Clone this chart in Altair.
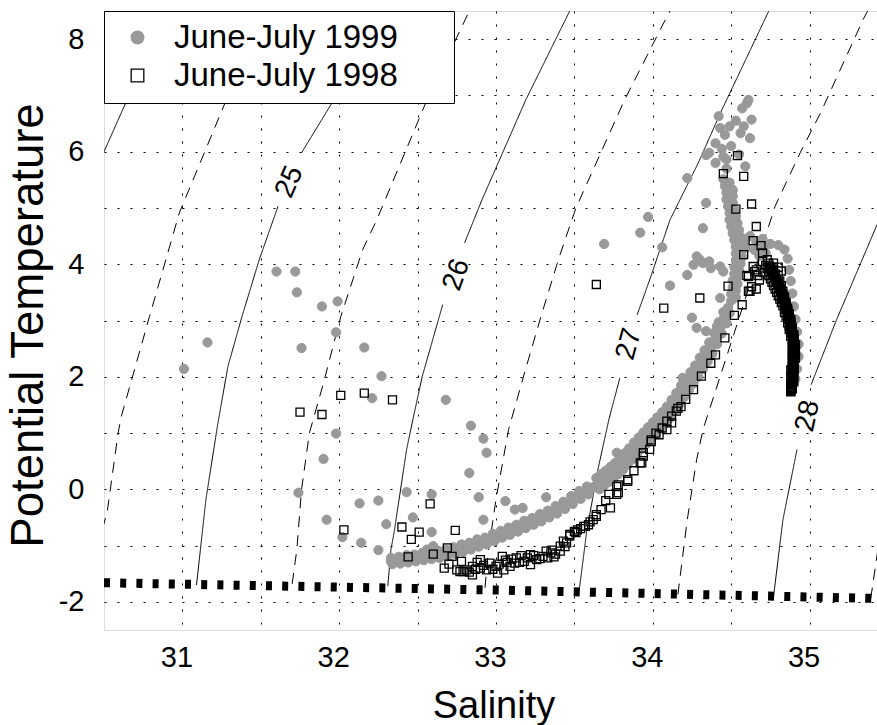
import math
import altair as alt
import pandas as pd

SERIES = ["June-July 1999", "June-July 1998"]

# ---------------- June-July 1999 (grey dots): (salinity, potential temperature) ----------------
G99_SCATTER = [(31.01, 2.14), (31.16, 2.61), (31.60, 3.87), (31.72, 3.87), (31.73, 3.50), (31.89, 3.25),
               (31.99, 3.34), (31.98, 2.79), (31.76, 2.51), (32.16, 2.52), (32.27, 2.01), (32.21, 1.62),
               (32.68, 1.59), (31.98, 0.99), (31.90, 0.54), (31.74, -0.06), (31.92, -0.54), (32.13, -0.25),
               (32.25, -0.20), (32.43, -0.05), (32.59, -0.09), (32.02, -0.85), (32.14, -0.95), (32.25, -1.08),
               (32.30, -0.62), (32.47, -0.50), (32.59, -0.76), (32.84, 1.13), (32.92, 0.90), (32.94, 0.65),
               (32.83, 0.29), (32.89, -0.14), (33.06, -0.21), (33.12, -0.36), (33.17, -0.33), (33.32, -0.14),
               (32.92, -0.54), (32.56, -1.07), (32.60, -1.01)]
G99_SHELF_UPPER = [(32.33, -1.22), (32.38, -1.20), (32.43, -1.17), (32.48, -1.16), (32.53, -1.13), (32.58, -1.12),
                   (32.63, -1.09), (32.68, -1.07), (32.73, -1.03), (32.78, -0.98), (32.83, -0.95), (32.88, -0.89),
                   (32.93, -0.86), (32.98, -0.79), (33.03, -0.74), (33.08, -0.68), (33.13, -0.63), (33.18, -0.56),
                   (33.23, -0.51), (33.28, -0.44), (33.33, -0.38), (33.38, -0.30), (33.43, -0.22), (33.48, -0.12),
                   (33.53, -0.03), (33.58, 0.05)]
G99_SHELF_MID = [(32.33, -1.28), (32.38, -1.26), (32.43, -1.24), (32.48, -1.22), (32.53, -1.20), (32.58, -1.18),
                 (32.63, -1.16), (32.68, -1.13), (32.73, -1.09), (32.78, -1.05), (32.83, -1.01), (32.88, -0.96),
                 (32.93, -0.92), (32.98, -0.86), (33.03, -0.80), (33.08, -0.75), (33.13, -0.69), (33.18, -0.63),
                 (33.23, -0.57), (33.28, -0.51), (33.33, -0.44), (33.38, -0.37), (33.43, -0.29), (33.48, -0.19),
                 (33.53, -0.10), (33.58, -0.02), (33.62, 0.04)]
G99_SHELF_LOWER = [(32.34, -1.33), (32.39, -1.32), (32.44, -1.30), (32.49, -1.28), (32.54, -1.26), (32.59, -1.24),
                   (32.64, -1.22), (32.69, -1.19), (32.74, -1.15), (32.79, -1.11), (32.84, -1.07), (32.89, -1.02),
                   (32.94, -0.98), (32.99, -0.92), (33.04, -0.86), (33.09, -0.81), (33.14, -0.75), (33.19, -0.69),
                   (33.24, -0.63), (33.29, -0.57), (33.34, -0.50), (33.39, -0.43), (33.44, -0.35), (33.49, -0.26),
                   (33.54, -0.17), (33.59, -0.09)]
G99_SLOPE_UPPER = [(33.64, 0.20), (33.67, 0.27), (33.70, 0.33), (33.73, 0.40), (33.76, 0.47), (33.79, 0.55),
                   (33.82, 0.64), (33.85, 0.73), (33.88, 0.83), (33.91, 0.92), (33.94, 1.01), (33.97, 1.10),
                   (34.00, 1.19), (34.03, 1.28), (34.06, 1.37), (34.09, 1.47), (34.12, 1.59), (34.15, 1.71),
                   (34.18, 1.84), (34.21, 1.96), (34.24, 2.08), (34.27, 2.20), (34.30, 2.34), (34.33, 2.47),
                   (34.36, 2.61), (34.39, 2.78), (34.42, 2.97), (34.45, 3.15)]
G99_SLOPE_MID = [(33.65, 0.10), (33.68, 0.17), (33.71, 0.23), (33.74, 0.30), (33.77, 0.37), (33.80, 0.45),
                 (33.83, 0.54), (33.86, 0.63), (33.89, 0.73), (33.92, 0.82), (33.95, 0.91), (33.98, 1.00),
                 (34.01, 1.09), (34.04, 1.18), (34.07, 1.27), (34.10, 1.37), (34.13, 1.49), (34.16, 1.61),
                 (34.19, 1.74), (34.22, 1.86), (34.25, 1.98), (34.28, 2.10), (34.31, 2.24), (34.34, 2.37),
                 (34.37, 2.51), (34.40, 2.68), (34.43, 2.87), (34.455, 3.05), (34.48, 3.23)]
G99_SLOPE_LOWER = [(33.66, 0.00), (33.69, 0.07), (33.72, 0.13), (33.75, 0.20), (33.78, 0.27), (33.81, 0.35),
                   (33.84, 0.44), (33.87, 0.53), (33.90, 0.63), (33.93, 0.72), (33.96, 0.81), (33.99, 0.90),
                   (34.02, 0.99), (34.05, 1.08), (34.08, 1.17), (34.11, 1.27), (34.14, 1.39), (34.17, 1.51),
                   (34.20, 1.64), (34.23, 1.76), (34.26, 1.88), (34.29, 2.00), (34.32, 2.14), (34.35, 2.27),
                   (34.38, 2.41), (34.41, 2.58), (34.44, 2.77), (34.47, 2.95), (34.49, 3.13)]
G99_COLUMN = [(34.50, 3.35), (34.50, 3.47), (34.51, 3.59), (34.51, 3.71), (34.52, 3.83), (34.52, 3.95),
              (34.53, 4.07), (34.53, 4.19), (34.53, 4.31), (34.52, 4.43), (34.51, 4.55), (34.50, 4.67),
              (34.49, 4.79), (34.49, 4.91), (34.48, 5.03), (34.47, 5.15), (34.47, 5.27), (34.46, 5.39),
              (34.45, 5.51), (34.53, 3.41), (34.53, 3.53), (34.54, 3.65), (34.54, 3.77), (34.55, 3.89),
              (34.56, 4.01), (34.57, 4.13), (34.57, 4.25), (34.57, 4.37), (34.56, 4.49), (34.55, 4.61),
              (34.54, 4.73), (34.53, 4.85), (34.52, 4.97), (34.51, 5.09), (34.51, 5.21), (34.50, 5.33),
              (34.49, 5.45)]
G99_TOP = [(34.61, 6.92), (34.57, 6.77), (34.63, 6.57), (34.42, 6.63), (34.43, 6.42), (34.56, 6.33),
           (34.62, 6.24), (34.40, 6.15), (34.34, 5.94), (34.45, 5.91), (34.59, 5.74), (34.22, 5.53),
           (34.34, 5.09), (34.51, 5.32), (34.52, 4.91), (34.60, 6.86), (34.36, 5.98), (34.47, 5.86),
           (34.44, 6.05), (34.50, 6.10), (34.47, 5.70), (34.58, 6.45), (34.46, 6.30), (34.40, 5.80),
           (34.55, 5.95), (34.53, 6.55), (34.49, 6.45)]
G99_MID = [(33.97, 4.84), (33.92, 4.56), (34.32, 4.64), (34.06, 4.30), (33.69, 4.36), (34.30, 4.08),
           (34.26, 3.99), (34.28, 4.14), (34.32, 4.02), (34.37, 3.93), (34.43, 3.96), (34.45, 3.87),
           (34.22, 3.81), (34.11, 3.62), (34.43, 3.40), (34.25, 3.05), (34.28, 2.87), (34.34, 2.81),
           (34.41, 2.90), (33.77, 0.65), (34.19, 1.98), (34.36, 4.05)]
G99_DEEP = [(34.66, 4.40), (34.70, 4.33), (34.75, 4.36), (34.80, 4.34), (34.84, 4.26), (34.86, 4.10),
            (34.87, 3.90), (34.88, 3.70), (34.89, 3.48), (34.90, 3.25), (34.91, 3.02), (34.92, 2.80),
            (34.93, 2.58), (34.93, 2.36), (34.92, 2.14), (34.91, 1.96), (34.89, 1.85), (34.62, 4.50),
            (34.58, 4.40), (34.72, 4.20), (34.68, 4.15), (34.60, 4.30), (34.65, 4.25), (34.70, 4.45)]

# ---------------- June-July 1998 (open squares) ----------------
S98_SCATTER = [(31.75, 1.37), (31.89, 1.33), (32.01, 1.67), (32.16, 1.71), (32.34, 1.59), (32.03, -0.72),
               (32.58, -0.26), (32.40, -0.67), (32.51, -0.76), (32.46, -0.89), (32.74, -0.73), (32.44, -1.20),
               (32.60, -1.15), (32.69, -1.04), (32.72, -1.19), (33.64, 3.64), (34.07, 3.22), (34.30, 3.40)]
S98_SHELF = [(32.67, -1.40), (32.75, -1.43), (32.77, -1.46), (32.78, -1.28), (32.79, -1.46), (32.81, -1.43),
             (32.85, -1.37), (32.85, -1.52), (32.90, -1.25), (32.90, -1.40), (32.94, -1.43), (32.96, -1.31),
             (33.00, -1.37), (33.01, -1.49), (33.04, -1.19), (33.05, -1.43), (33.09, -1.37), (33.12, -1.31),
             (33.13, -1.22), (33.18, -1.28), (33.22, -1.16), (33.22, -1.34), (33.26, -1.25), (33.30, -1.19),
             (33.32, -1.10), (33.33, -1.22), (33.38, -1.15), (33.41, -1.10), (33.41, -1.01), (33.43, -0.92),
             (33.47, -0.83), (33.47, -0.80), (33.50, -0.75), (33.51, -0.77), (33.56, -0.66), (33.57, -0.66),
             (33.59, -0.63), (32.70, -1.33), (32.83, -1.47), (32.87, -1.42), (32.92, -1.35), (32.98, -1.42),
             (33.02, -1.33), (33.07, -1.30), (33.10, -1.24), (33.15, -1.30), (33.20, -1.22), (33.24, -1.18),
             (33.28, -1.23), (33.35, -1.13), (33.37, -1.20), (33.44, -1.02), (33.45, -0.95), (33.52, -0.72),
             (33.54, -0.70), (33.36, -1.08), (33.16, -1.18), (32.88, -1.30), (33.06, -1.26)]
S98_SLOPE = [(33.62, -0.54), (33.64, -0.48), (33.64, -0.45), (33.67, -0.36), (33.73, -0.33), (33.72, -0.09),
             (33.77, -0.09), (33.77, 0.05), (33.78, -0.06), (33.78, 0.08), (33.84, 0.14), (33.84, 0.17),
             (33.92, 0.47), (33.93, 0.47), (33.94, 0.59), (33.94, 0.65), (33.98, 0.71), (33.99, 0.85),
             (33.99, 0.88), (34.02, 1.00), (34.04, 0.97), (34.06, 1.09), (34.09, 1.06), (34.09, 1.21),
             (34.12, 1.18), (34.12, 1.30), (34.15, 1.39), (34.18, 1.47), (34.26, 1.77), (34.31, 2.01),
             (34.37, 2.24), (34.40, 2.39), (34.46, 2.69), (33.60, -0.58), (33.70, -0.20), (33.88, 0.33),
             (34.21, 1.60), (34.16, 1.44)]
S98_UPPER = [(34.54, 5.93), (34.45, 5.61), (34.58, 5.56), (34.53, 4.98), (34.63, 5.07), (34.66, 4.67),
             (34.64, 4.42), (34.69, 4.33), (34.70, 4.20), (34.58, 4.17), (34.74, 4.02), (34.60, 3.80),
             (34.65, 3.87), (34.57, 3.28), (34.52, 3.09), (34.62, 3.52), (34.66, 3.56), (34.64, 3.96),
             (34.61, 3.78), (34.66, 3.90), (34.68, 3.72), (34.48, 3.61), (34.61, 3.52), (34.76, 3.90),
             (34.63, 3.60), (34.67, 3.80), (34.70, 4.05), (34.73, 4.08), (34.77, 4.02), (34.80, 3.95),
             (34.71, 3.85), (34.82, 3.88)]
S98_DEEP = [(34.72, 3.98), (34.76, 3.95), (34.73, 3.92), (34.77, 3.89), (34.74, 3.86), (34.78, 3.83),
            (34.74, 3.80), (34.78, 3.77), (34.75, 3.74), (34.79, 3.71), (34.76, 3.68), (34.80, 3.65),
            (34.77, 3.62), (34.81, 3.59), (34.78, 3.56), (34.82, 3.53), (34.79, 3.50), (34.83, 3.47),
            (34.80, 3.44), (34.83, 3.41), (34.81, 3.38), (34.84, 3.35), (34.82, 3.32), (34.85, 3.29),
            (34.83, 3.26), (34.85, 3.23), (34.84, 3.20), (34.86, 3.17), (34.84, 3.14), (34.87, 3.11),
            (34.85, 3.08), (34.87, 3.05), (34.86, 3.02), (34.88, 2.99), (34.86, 2.96), (34.88, 2.93),
            (34.87, 2.90), (34.89, 2.87), (34.87, 2.84), (34.89, 2.81), (34.88, 2.78), (34.90, 2.75),
            (34.88, 2.72), (34.90, 2.69), (34.89, 2.66), (34.90, 2.63), (34.89, 2.60), (34.91, 2.57),
            (34.89, 2.54), (34.90, 2.51), (34.89, 2.48), (34.91, 2.45), (34.89, 2.42), (34.90, 2.39),
            (34.89, 2.36), (34.91, 2.33), (34.89, 2.30), (34.90, 2.27), (34.89, 2.24), (34.90, 2.21),
            (34.89, 2.18), (34.90, 2.15), (34.88, 2.12), (34.90, 2.09), (34.89, 2.06), (34.90, 2.03),
            (34.88, 2.00), (34.89, 1.97), (34.89, 1.94), (34.90, 1.91), (34.88, 1.88), (34.89, 1.85),
            (34.88, 1.82), (34.89, 1.79), (34.88, 1.76), (34.88, 1.73)]
S98_DEEP_2 = [(34.745, 3.965), (34.75, 3.935), (34.755, 3.905), (34.76, 3.875), (34.765, 3.845), (34.77, 3.815),
              (34.775, 3.785), (34.78, 3.755), (34.785, 3.725), (34.79, 3.695), (34.795, 3.665), (34.80, 3.635),
              (34.805, 3.605), (34.81, 3.575), (34.815, 3.545), (34.82, 3.515), (34.82, 3.485), (34.825, 3.455),
              (34.83, 3.425), (34.835, 3.395), (34.84, 3.365), (34.84, 3.335), (34.845, 3.305), (34.85, 3.275),
              (34.85, 3.245), (34.855, 3.215), (34.86, 3.185), (34.86, 3.155), (34.865, 3.125), (34.865, 3.095),
              (34.87, 3.065), (34.87, 3.035), (34.875, 3.005), (34.875, 2.975), (34.88, 2.945), (34.88, 2.915),
              (34.885, 2.885), (34.885, 2.855), (34.89, 2.825), (34.89, 2.795), (34.89, 2.765), (34.895, 2.735),
              (34.895, 2.705), (34.895, 2.675), (34.90, 2.645), (34.90, 2.615), (34.90, 2.585), (34.90, 2.555),
              (34.90, 2.525), (34.90, 2.495), (34.90, 2.465), (34.90, 2.435), (34.90, 2.405), (34.90, 2.375),
              (34.895, 2.345), (34.895, 2.315), (34.895, 2.285), (34.895, 2.255), (34.895, 2.225), (34.895, 2.195),
              (34.895, 2.165), (34.89, 2.135), (34.89, 2.105), (34.89, 2.075), (34.89, 2.045), (34.89, 2.015),
              (34.89, 1.985), (34.895, 1.955), (34.895, 1.925), (34.89, 1.895), (34.89, 1.865), (34.885, 1.835),
              (34.885, 1.805), (34.885, 1.775), (34.88, 1.745),
              (34.80, 3.80), (34.81, 3.70), (34.82, 3.62), (34.83, 3.52), (34.84, 3.42), (34.85, 3.32),
              (34.86, 3.22), (34.87, 3.12), (34.88, 3.02)]

# ---------------- isopycnals (sigma-theta); gaps where labels sit ----------------
ISO_SIGMA = [24.0, 24.5, 25.0, 25.0, 25.5, 26.0, 26.0, 26.5, 27.0, 27.0, 27.5, 28.0, 28.0, 28.5]
ISO_S = [[30.50, 30.65, 30.93],
         [30.49, 30.52, 30.59, 30.61, 30.79, 30.98, 31.28, 31.62],
         [31.09, 31.15, 31.225, 31.29, 31.38, 31.49, 31.61],
         [31.76, 31.97, 32.39],
         [31.70, 31.73, 31.76, 31.81, 31.90, 32.01, 32.15, 32.24, 32.56, 32.83],
         [32.31, 32.33, 32.35, 32.43, 32.47, 32.53, 32.66],
         [32.80, 32.91, 33.19, 33.47],
         [32.93, 32.95, 33.00, 33.08, 33.18, 33.29, 33.40, 33.51, 33.82, 34.09, 34.11],
         [33.53, 33.58, 33.65, 33.72, 33.79],
         [33.90, 33.98, 34.11, 34.29, 34.44, 34.74],
         [34.16, 34.22, 34.28, 34.32, 34.55, 34.78, 34.94, 35.07, 35.34, 35.37],
         [34.77, 34.83, 34.92],
         [35.01, 35.17, 35.43, 35.50],
         [35.39, 35.45]]
ISO_T = [[6.00, 6.94, 8.50],
         [-0.70, -0.41, 1.00, 1.29, 3.07, 4.91, 6.92, 8.50],
         [-1.70, -0.18, 1.15, 2.18, 3.07, 4.08, 5.03],
         [5.98, 6.94, 8.50],
         [-1.68, -1.07, 0.00, 1.00, 1.89, 3.07, 4.26, 4.79, 6.92, 8.50],
         [-1.72, -1.07, -0.77, 0.71, 1.24, 2.01, 3.28],
         [4.38, 5.14, 6.92, 8.50],
         [-1.75, -1.13, -0.18, 1.06, 2.05, 3.10, 4.10, 5.00, 6.92, 8.40, 8.50],
         [-1.81, -0.72, 0.35, 1.24, 1.98],
         [3.10, 3.72, 4.79, 5.80, 6.74, 8.50],
         [-1.87, -0.54, 0.53, 1.06, 3.04, 5.03, 5.98, 6.69, 8.34, 8.50],
         [-1.91, -0.54, 0.71],
         [1.86, 3.00, 4.70, 5.10],
         [-1.94, -0.80]]

ISO_LABELS = ["25", "26", "27", "28"]
ISO_LABEL_S = [31.685, 32.75, 33.85, 34.99]
ISO_LABEL_T = [5.46, 3.81, 2.58, 1.30]

# freezing-point line
FRZ_S = [30.50, 33.00, 35.43]
FRZ_T = [-1.66, -1.79, -1.94]

X_DOMAIN = [30.5, 35.43]
Y_DOMAIN = [-2.5, 8.5]
W, H = 773, 619
FONT = "Liberation Sans"

# ---------------- tables ----------------
g99 = (G99_SCATTER + G99_SHELF_UPPER + G99_SHELF_MID + G99_SHELF_LOWER + G99_SLOPE_UPPER + G99_SLOPE_MID
       + G99_SLOPE_LOWER + G99_COLUMN + G99_TOP + G99_MID + G99_DEEP)
s98 = S98_SCATTER + S98_SHELF + S98_SLOPE + S98_UPPER + S98_DEEP + S98_DEEP_2
df99 = pd.DataFrame({"S": [p[0] for p in g99], "T": [p[1] for p in g99], "series": SERIES[0]})
df98 = pd.DataFrame({"S": [p[0] for p in s98], "T": [p[1] for p in s98], "series": SERIES[1]})

rows = []
for i, (sig, ss, tt) in enumerate(zip(ISO_SIGMA, ISO_S, ISO_T)):
    style = "solid" if float(sig).is_integer() else "dashed"
    for k, (s, t) in enumerate(zip(ss, tt)):
        rows.append({"S": s, "T": t, "seg": i, "k": k, "style": style})
iso_df = pd.DataFrame(rows)

px_s = W / (X_DOMAIN[1] - X_DOMAIN[0])
px_t = H / (Y_DOMAIN[1] - Y_DOMAIN[0])
angles = []
for lab in ISO_LABELS:
    idx = [i for i, s in enumerate(ISO_SIGMA) if s == float(lab)]
    a, b = idx[0], idx[1]
    s0, t0 = ISO_S[a][-1], ISO_T[a][-1]
    s1, t1 = ISO_S[b][0], ISO_T[b][0]
    angles.append(270 + math.degrees(math.atan(((s1 - s0) * px_s) / ((t1 - t0) * px_t))))
lab_df = pd.DataFrame({"S": ISO_LABEL_S, "T": ISO_LABEL_T, "txt": ISO_LABELS, "ang": angles})
frz_df = pd.DataFrame({"S": FRZ_S, "T": FRZ_T, "k": list(range(len(FRZ_S)))})

# ---------------- encodings ----------------
x_axis = alt.Axis(values=[31, 31.5, 32, 32.5, 33, 33.5, 34, 34.5, 35],
                  labelExpr="datum.value % 1 == 0 ? '' + datum.value : ''",
                  title="Salinity", grid=True, gridColor="black", gridDash=[2, 11], gridWidth=1,
                  gridOpacity=1, domain=False, ticks=False, labelFontSize=29, labelFont=FONT,
                  labelColor="black", labelPadding=13, labelOffset=-6, labelOverlap=False,
                  labelFlush=False, titleFont=FONT, titleFontSize=38, titleFontWeight="normal",
                  titleColor="black", titleX=389.5, titleY=87, titleBaseline="alphabetic",
                  titleAlign="center")
y_axis = alt.Axis(values=list(range(-2, 9)),
                  labelExpr="datum.value % 2 == 0 ? '' + datum.value : ''",
                  title="Potential Temperature", grid=True, gridColor="black", gridDash=[2, 11],
                  gridWidth=1, gridOpacity=1, domain=False, ticks=False, labelFontSize=29,
                  labelFont=FONT, labelColor="black", labelPadding=20, labelOverlap=False,
                  labelFlush=False, titleFont=FONT, titleFontSize=45.5, titleFontWeight="normal",
                  titleColor="black", titleAngle=270, titleX=-62, titleY=314,
                  titleBaseline="alphabetic", titleAlign="center")

X = alt.X("S:Q", scale=alt.Scale(domain=X_DOMAIN, nice=False, zero=False), axis=x_axis)
Y = alt.Y("T:Q", scale=alt.Scale(domain=Y_DOMAIN, nice=False, zero=False), axis=y_axis)

# trailing no-break spaces (closed by a word joiner) widen the legend box like the reference
legend = alt.Legend(orient="none", legendX=0, legendY=0, title=None, fillColor="white",
                    strokeColor="black", padding=10, symbolOffset=7, labelOffset=20,
                    rowPadding=4, symbolSize=160, symbolStrokeWidth=1.3, labelFontSize=33,
                    labelFont=FONT, labelColor="black", labelLimit=0,
                    labelExpr="datum.label + '\u00a0\u00a0\u00a0\u00a0\u00a0\u2060'")
shape = alt.Shape("series:N", scale=alt.Scale(domain=SERIES, range=["circle", "square"]), legend=legend)
fill = alt.Fill("series:N", scale=alt.Scale(domain=SERIES, range=["#999999", "transparent"]), legend=legend)
stroke = alt.Stroke("series:N", scale=alt.Scale(domain=SERIES, range=["#999999", "black"]), legend=legend)

iso = alt.Chart(iso_df).mark_line(clip=True, color="black", strokeWidth=1).encode(
    x=X, y=Y, detail="seg:N", order="k:Q",
    strokeDash=alt.StrokeDash("style:N", scale=alt.Scale(domain=["solid", "dashed"], range=[[1, 0], [11, 8]]),
                              legend=None))
frz = alt.Chart(frz_df).mark_line(clip=True, color="black", strokeWidth=9, strokeDash=[6, 10.2],
                                  strokeCap="butt").encode(x=X, y=Y, order="k:Q")
p99 = alt.Chart(df99).mark_point(filled=True, opacity=1, size=85, strokeWidth=1, clip=True).encode(
    x=X, y=Y, shape=shape, fill=fill, stroke=stroke)
p98 = alt.Chart(df98).mark_point(filled=True, opacity=1, size=64, strokeWidth=1.3, clip=True).encode(
    x=X, y=Y, shape=shape, fill=fill, stroke=stroke)
labels = alt.Chart(lab_df).mark_text(fontSize=28, font=FONT, color="black", align="center",
                                     baseline="middle").encode(
    x=X, y=Y, text="txt:N", angle=alt.Angle("ang:Q", scale=None))

chart = alt.layer(iso, frz, p99, p98, labels).properties(
    width=W, height=H,
    padding={"left": 104, "top": 11, "right": 0, "bottom": 95},
    autosize=alt.AutoSizeParams(type="none"),
    background="white",
).configure_view(stroke="#222222", strokeWidth=1.5).configure(font=FONT)

chart.save("out.html", embed_options={"renderer": "svg", "actions": False})
